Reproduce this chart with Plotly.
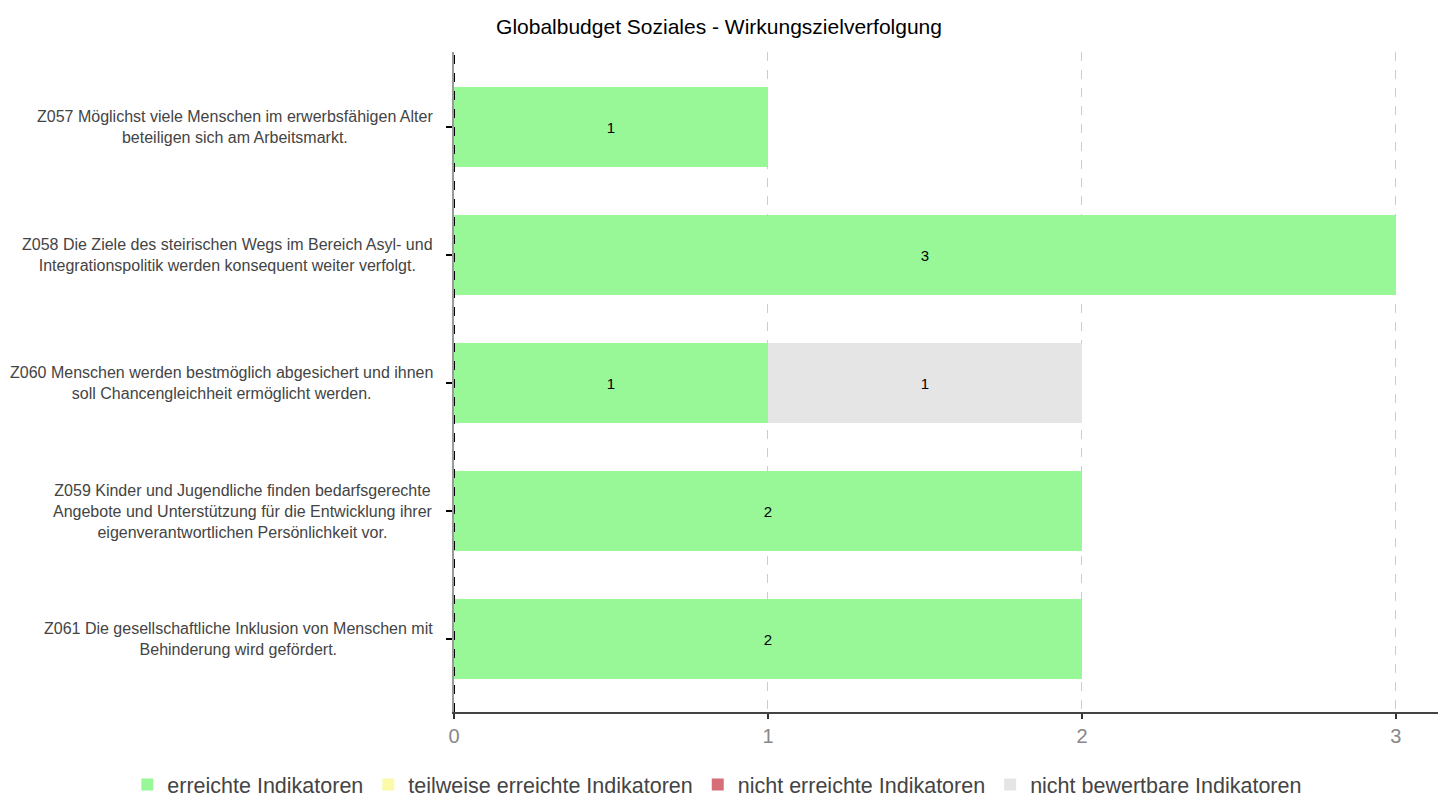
import plotly.graph_objects as go

# Wirkungsziele (top to bottom) and indicator counts per status
ziele = [
    "Z057 Möglichst viele Menschen im erwerbsfähigen Alter<br>beteiligen sich am Arbeitsmarkt.",
    "Z058 Die Ziele des steirischen Wegs im Bereich Asyl- und<br>Integrationspolitik werden konsequent weiter verfolgt.",
    "Z060 Menschen werden bestmöglich abgesichert und ihnen<br>soll Chancengleichheit ermöglicht werden.",
    "Z059 Kinder und Jugendliche finden bedarfsgerechte<br>Angebote und Unterstützung für die Entwicklung ihrer<br>eigenverantwortlichen Persönlichkeit vor.",
    "Z061 Die gesellschaftliche Inklusion von Menschen mit<br>Behinderung wird gefördert.",
]
erreicht = [1, 3, 1, 2, 2]
teilweise = [0, 0, 0, 0, 0]
nicht_erreicht = [0, 0, 0, 0, 0]
nicht_bewertbar = [0, 0, 1, 0, 0]

series = [
    ("erreichte Indikatoren", erreicht, "#98F898"),
    ("teilweise erreichte Indikatoren", teilweise, "#FAFAAA"),
    ("nicht erreichte Indikatoren", nicht_erreicht, "#D66E78"),
    ("nicht bewertbare Indikatoren", nicht_bewertbar, "#E5E5E5"),
]

pos = list(range(len(ziele)))
FONT = "Liberation Sans"

fig = go.Figure()
for name, vals, color in series:
    fig.add_trace(go.Bar(
        y=pos, x=vals, name=name, orientation="h",
        marker=dict(color=color, line=dict(width=0)),
        text=[str(v) if v else "" for v in vals],
        textposition="inside", insidetextanchor="middle",
        textfont=dict(color="black", size=15, family=FONT),
        width=0.62,
    ))

# category labels, centred multi-line text left of the axis
for p, label in zip(pos, ziele):
    fig.add_annotation(
        x=0, xref="paper", y=p, yref="y", text=label, showarrow=False,
        xanchor="right", align="center", xshift=-19,
        font=dict(size=16, color="#444444", family=FONT),
    )

# dashed zero line
fig.add_shape(type="line", x0=0, x1=0, xref="x", y0=0, y1=1, yref="paper",
              line=dict(color="black", width=2, dash="dash"), layer="above")

fig.update_layout(
    width=1438, height=797,
    margin=dict(l=454, r=0, t=52, b=85, autoexpand=False),
    barmode="stack",
    plot_bgcolor="white", paper_bgcolor="white",
    title=dict(text="Globalbudget Soziales - Wirkungszielverfolgung",
               x=0.5, xanchor="center", y=1 - 27 / 797, yanchor="middle",
               font=dict(size=21, color="black", family=FONT)),
    xaxis=dict(range=[0, 3.134], tickvals=[0, 1, 2, 3],
               showgrid=True, gridcolor="#CCCCCC", griddash="dash", gridwidth=1,
               zeroline=False, showline=True, linecolor="#444444", linewidth=2,
               ticks="outside", ticklen=5, tickwidth=2, tickcolor="#333333",
               tickfont=dict(size=20, color="#888888", family=FONT)),
    yaxis=dict(range=[len(ziele) - 0.43, -0.586], tickvals=pos,
               ticktext=["" for _ in pos], showgrid=False, zeroline=False,
               showline=True, linecolor="#999999", linewidth=2,
               ticks="outside", ticklen=6, tickwidth=2, tickcolor="black"),
    legend=dict(orientation="h", x=-0.332, xanchor="left",
                y=-0.079, yanchor="top", bgcolor="rgba(0,0,0,0)",
                font=dict(size=21.5, color="#444444", family=FONT),
                traceorder="normal", itemsizing="constant"),
    showlegend=True,
)

fig.write_html("out.html")
